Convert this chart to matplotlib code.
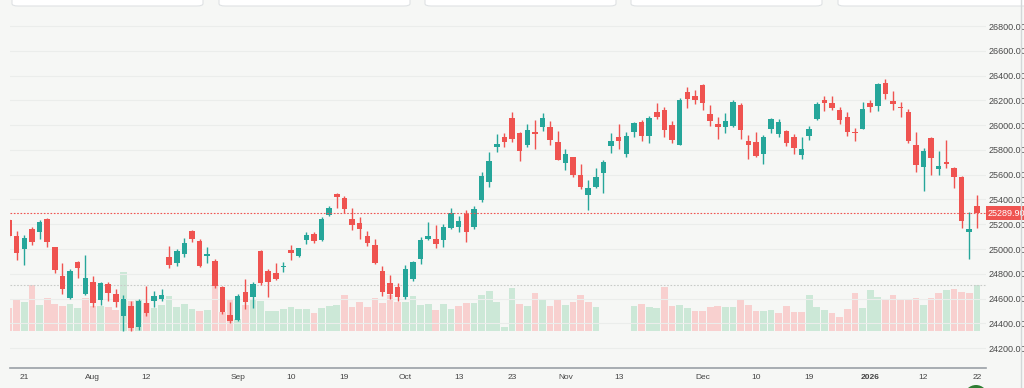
import matplotlib
matplotlib.use("Agg")
import matplotlib.pyplot as plt
from matplotlib.patches import FancyBboxPatch, Ellipse
from matplotlib.lines import Line2D
import numpy as np

plt.rcParams['font.family'] = ['Liberation Sans', 'DejaVu Sans']
NARROW = ['Liberation Sans Narrow', 'Liberation Sans', 'DejaVu Sans']

# daily candles, Jul 17 2025 .. Jan 22 2026
opens = [25234, 25107, 24997, 25163, 25136, 25241, 25013, 24779, 24604, 24892,
         24636, 24736, 24590, 24719, 24641, 24461, 24542, 24367, 24561, 24579,
         24598, 24937, 24889, 24964, 25145, 25064, 24945, 24902, 24695, 24466,
         24426, 24652, 24614, 24983, 24822, 24803, 24857, 24991, 24943, 25072,
         25118, 25072, 25276, 25443, 25411, 25239, 25212, 25107, 25034, 24819,
         24730, 24693, 24615, 24757, 24916, 25083, 25080, 25072, 25169, 25177,
         25279, 25177, 25392, 25543, 25820, 25901, 26057, 25939, 25842, 25941,
         25984, 25984, 25863, 25696, 25742, 25594, 25433, 25500, 25615, 25831,
         25906, 25766, 25944, 26022, 25914, 26108, 26121, 26000, 25841, 26264,
         26234, 26326, 26089, 26006, 25981, 25995, 26162, 25871, 25866, 25769,
         25965, 25930, 25952, 25901, 25761, 25909, 26049, 26205, 26175, 26121,
         26062, 25946, 25968, 26175, 26154, 26337, 26191, 26146, 26105, 25839,
         25664, 25895, 25648, 25699, 25656, 25583, 25139, 25346]
highs = [25245, 25145, 25112, 25180, 25233, 25249, 25015, 24884, 24843, 24905,
         24956, 24781, 24736, 24736, 24674, 24633, 24582, 24596, 24701, 24660,
         24674, 25023, 25002, 25088, 25153, 25085, 25018, 24916, 24700, 24574,
         24636, 24760, 24736, 24990, 24835, 24884, 24892, 25032, 25010, 25139,
         25139, 25260, 25346, 25454, 25432, 25328, 25260, 25147, 25085, 24865,
         24792, 24728, 24868, 24903, 25099, 25220, 25193, 25199, 25330, 25268,
         25314, 25344, 25624, 25782, 25928, 25939, 26105, 25945, 26009, 26041,
         26100, 26033, 25952, 25804, 25745, 25683, 25556, 25656, 25718, 25933,
         26011, 25946, 26027, 26041, 26073, 26181, 26143, 26033, 26216, 26310,
         26283, 26330, 26159, 26068, 26100, 26202, 26175, 25920, 25946, 25920,
         26059, 26046, 25960, 25928, 25901, 25995, 26183, 26234, 26234, 26143,
         26108, 25979, 26189, 26202, 26342, 26372, 26275, 26189, 26129, 25946,
         25812, 25901, 25793, 25879, 25664, 25589, 25301, 25435]
lows = [25100, 24910, 24875, 25029, 25083, 25013, 24803, 24641, 24596, 24768,
        24630, 24534, 24550, 24582, 24534, 24340, 24340, 24345, 24458, 24534,
        24579, 24849, 24865, 24937, 25056, 24857, 24889, 24682, 24474, 24405,
        24420, 24520, 24528, 24706, 24614, 24749, 24816, 24908, 24937, 25040,
        25045, 25067, 25268, 25328, 25287, 25153, 25080, 25023, 24878, 24625,
        24598, 24582, 24598, 24744, 24878, 25072, 25005, 25018, 25158, 25139,
        25056, 25158, 25376, 25503, 25782, 25826, 25861, 25713, 25826, 25809,
        25955, 25842, 25718, 25637, 25578, 25486, 25314, 25495, 25449, 25777,
        25804, 25739, 25906, 25871, 25852, 26049, 25906, 25855, 25838, 26140,
        26170, 26121, 25995, 25887, 25933, 25981, 25887, 25726, 25739, 25685,
        25933, 25903, 25831, 25769, 25726, 25879, 26041, 26116, 26121, 26008,
        25914, 25876, 25966, 26108, 26116, 26207, 26121, 26062, 25858, 25618,
        25467, 25597, 25597, 25656, 25489, 25166, 24916, 25166]
closes = [25107, 24970, 25091, 25056, 25220, 25056, 24832, 24679, 24819, 24851,
          24768, 24561, 24725, 24649, 24569, 24593, 24361, 24582, 24485, 24620,
          24628, 24873, 24983, 25048, 25083, 24865, 24964, 24698, 24491, 24421,
          24625, 24574, 24714, 24730, 24736, 24762, 24867, 24970, 25007, 25112,
          25069, 25239, 25333, 25422, 25322, 25198, 25163, 25050, 24889, 24652,
          24636, 24609, 24835, 24892, 25072, 25107, 25042, 25180, 25287, 25225,
          25139, 25325, 25589, 25710, 25844, 25866, 25890, 25793, 25963, 25930,
          26054, 25879, 25721, 25764, 25594, 25503, 25492, 25578, 25699, 25876,
          25876, 25911, 26016, 25909, 26054, 26065, 25957, 25882, 26205, 26213,
          26199, 26175, 26030, 25981, 26033, 26189, 25957, 25836, 25755, 25901,
          26049, 26027, 25858, 25815, 25810, 25968, 26172, 26178, 26140, 26041,
          25941, 25936, 26129, 26146, 26331, 26248, 26172, 26135, 25871, 25677,
          25790, 25731, 25667, 25688, 25583, 25225, 25161, 25289.9]
volumes = [230, 307, 290, 460, 260, 327, 267, 250, 273, 233,
           330, 250, 250, 243, 213, 590, 300, 307, 283, 230,
           260, 347, 243, 273, 217, 200, 210, 460, 190, 310,
           120, 260, 320, 300, 200, 200, 217, 237, 217, 217,
           177, 230, 253, 260, 363, 243, 287, 237, 327, 280,
           360, 293, 293, 350, 260, 273, 213, 273, 220, 250,
           283, 283, 360, 403, 290, 40, 430, 273, 253, 380,
           307, 250, 320, 263, 290, 360, 290, 237, 5, 5,
           5, 5, 253, 267, 240, 230, 443, 250, 260, 230,
           197, 203, 240, 253, 237, 240, 310, 260, 197, 197,
           210, 177, 250, 193, 187, 360, 240, 210, 180, 137,
           220, 377, 233, 410, 337, 323, 360, 323, 310, 330,
           260, 330, 377, 413, 420, 390, 377, 460]

tick_pos = [2, 11, 18, 30, 37, 44, 52, 59, 66, 73, 80, 91, 98, 105, 113, 120, 127]
tick_labels = ['21', 'Aug', '12', 'Sep', '10', '19', 'Oct', '13', '23', 'Nov',
               '13', 'Dec', '10', '19', '2026', '12', '22']
price_ticks = np.arange(24200, 26801, 200)
last_close = 25289.90
ref_level = 24709

UP = '#26a69a'
DOWN = '#ef5350'
VOL_UP = '#cce8d7'
VOL_DOWN = '#f8d0cf'
BG = '#f6f7f5'

W, H = 1024, 388


def px_box(x0, y0, x1, y1):
    return [x0 / W, 1 - y1 / H, (x1 - x0) / W, (y1 - y0) / H]


o = np.array(opens, dtype=float)
h = np.array(highs, dtype=float)
l = np.array(lows, dtype=float)
c = np.array(closes, dtype=float)
v = np.array(volumes, dtype=float)
x = np.arange(len(c))

up = c >= o
prev = np.r_[o[0], c[:-1]]
vol_up = c >= prev

fig = plt.figure(figsize=(W / 100, H / 100), dpi=100)
fig.patch.set_facecolor(BG)

# volume pane (under the candles)
ax_vol = fig.add_axes(px_box(9.5, 231, 986, 331))
ax_vol.set_facecolor('none')
ax_vol.bar(x, v, width=0.88, color=np.where(vol_up, VOL_UP, VOL_DOWN), zorder=1)
ax_vol.set_ylim(0, 1000)
ax_vol.set_xlim(0.05, 128.2)
ax_vol.axis('off')

# price pane
ax = fig.add_axes(px_box(9.5, 0, 986, 368))
ax.set_facecolor('none')
ax.set_xlim(0.05, 128.2)
ax.set_ylim(24040, 27010)

for p in price_ticks:
    ax.axhline(p, color='#ebedeb', lw=0.8, zorder=0)

colors = np.where(up, UP, DOWN)
ax.vlines(x, l, h, colors=colors, lw=1, zorder=2)
body = np.maximum(np.abs(c - o), 8)
ax.bar(x, body, bottom=np.minimum(o, c), width=0.72, color=colors, zorder=3)

ax.axhline(ref_level, color='#c8cbc8', lw=0.8, ls=(0, (1.5, 1.5)), zorder=1)
ax.axhline(last_close, color=DOWN, lw=0.8, ls=(0, (1.5, 1.5)), zorder=4)

for s in ['top', 'left', 'right']:
    ax.spines[s].set_visible(False)
ax.spines['bottom'].set_color('#9aa0a6')
ax.spines['bottom'].set_linewidth(1.2)

ax.yaxis.tick_right()
ax.set_yticks(price_ticks)
ax.set_yticklabels([f'{p:.2f}' for p in price_ticks])
ax.tick_params(axis='y', length=0, pad=1.5, labelsize=6.5, colors='#4a4a4a')
for t in ax.get_yticklabels():
    t.set_family(NARROW)

ax.set_xticks(tick_pos)
ax.set_xticklabels(tick_labels)
ax.tick_params(axis='x', length=0, pad=4, labelsize=6, colors='#444444')
for t in ax.get_xticklabels():
    if t.get_text() == '2026':
        t.set_fontweight('bold')

ax.text(1.002, last_close, f'{last_close:.2f}', transform=ax.get_yaxis_transform(),
        va='center', ha='left', fontsize=6.5, color='white', clip_on=False, zorder=5,
        family=NARROW, bbox=dict(boxstyle='square,pad=0.25', fc=DOWN, ec='none'))

# window chrome: tab buttons at top, border at right, badge at bottom right
for x0, x1 in [(12, 203), (219, 410), (425, 616), (631, 822), (838, 1040)]:
    fig.patches.append(FancyBboxPatch((x0 / W, 1 - 6 / H), (x1 - x0) / W, 20 / H,
                                      boxstyle='round,pad=0,rounding_size=0.006',
                                      transform=fig.transFigure, fc='white',
                                      ec='#dfe2e4', lw=0.8))
fig.add_artist(Line2D([1021 / W] * 2, [0, 1], color='#d3d6d8', lw=1))
fig.patches.append(Ellipse((976 / W, 1 - 397 / H), 24 / W, 24 / H,
                           transform=fig.transFigure, fc='#2e7d32', ec='none'))

fig.savefig('out.png', dpi=100, facecolor=BG)
